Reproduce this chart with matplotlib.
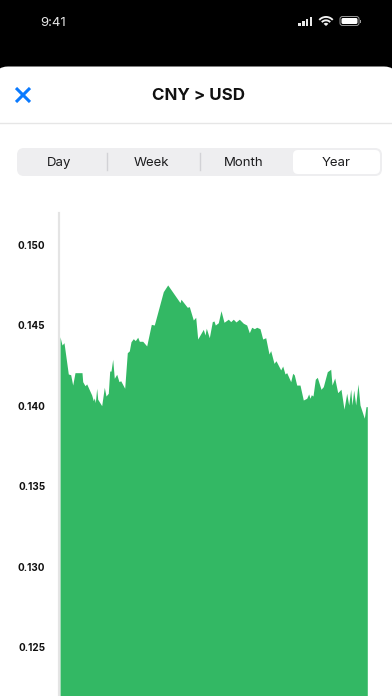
import matplotlib
matplotlib.use("Agg")
import matplotlib.pyplot as plt
from matplotlib.patches import FancyBboxPatch, Rectangle, Wedge

plt.rcParams['font.family'] = ['Inter', 'DejaVu Sans']

# time position along the axis, and CNY > USD rate
days = [0, 2, 4, 8.3, 10.7, 12.7, 15, 22, 22.7, 25, 26.7, 31.7, 33.3, 34.3, 35.3, 36.7, 37.7, 41.7,
        44.3, 46, 48.3, 49.7, 51, 52.7, 54.3, 56.7, 59, 60.7, 64.7, 67.3, 69.3, 71, 73.3, 75.3, 77.7,
        79.3, 82.7, 86.7, 91.3, 94.3, 103.3, 107.7, 120, 121, 127.3, 129.3, 133.3, 135.7, 137.7,
        143.3, 145, 146.3, 149.3, 152.3, 154, 155.3, 158.3, 161, 164, 168.3, 170.7, 173.3, 176,
        179.3, 183.3, 186.7, 189.3, 191.7, 194.3, 196.7, 200, 202.7, 205.7, 209, 210.7, 214, 216,
        220.7, 222.7, 225, 226.7, 230.7, 232.7, 234.3, 236.7, 240, 243.3, 246.7, 248.7, 250, 251.3,
        253, 255.3, 257.3, 261, 263.3, 267.3, 270.7, 272, 274.7, 277.7, 281, 284, 286.7, 288.7,
        290.7, 292, 293.7, 295.7, 298, 300, 304.3, 306, 307.3]
rates = [.14430, .14379, .14393, .14199, .14194, .14130, .14207, .14207, .14151, .14126, .14137,
         .14068, .14033, .14050, .14021, .14110, .14042, .14002, .14116, .14062, .14079, .14217,
         .14217, .14290, .14172, .14197, .14151, .14157, .14110, .14331, .14342, .14399, .14418,
         .14406, .14427, .14402, .14402, .14373, .14507, .14503, .14710, .14752, .14642, .14663,
         .14613, .14617, .14534, .14551, .14416, .14476, .14441, .14483, .14424, .14524, .14528,
         .14503, .14517, .14592, .14520, .14539, .14524, .14539, .14522, .14539, .14514, .14503,
         .14455, .14489, .14480, .14489, .14480, .14416, .14424, .14323, .14344, .14265, .14281,
         .14224, .14248, .14199, .14207, .14151, .14203, .14193, .14130, .14130, .14037, .14048,
         .14075, .14048, .14070, .14062, .14166, .14178, .14104, .14120, .14213, .14228, .14130,
         .14174, .14083, .14104, .13980, .14079, .14006, .14104, .14006, .14099, .14006, .14137,
         .14006, .13924, .13996, .13996]
yticks = [0.125, 0.130, 0.135, 0.140, 0.145, 0.150]
tabs = ["Day", "Week", "Month", "Year"]
tab_x = [59.5, 151.5, 244, 336]

W, H = 392, 696
fig = plt.figure(figsize=(W / 100, H / 100), dpi=100, facecolor="black")

# screen furniture in pixel coordinates
ui = fig.add_axes([0, 0, 1, 1])
ui.set_xlim(0, W)
ui.set_ylim(H, 0)
ui.axis("off")

ui.add_patch(FancyBboxPatch((-5, 66.5), W + 10, 700, boxstyle="round,pad=0,rounding_size=13", fc="white", ec="none"))
ui.text(53, 23, "9:41", color="#e8e8e8", fontsize=9.5, ha="center", va="center")

# status icons
for i, h in enumerate([3, 5, 7, 9]):
    ui.add_patch(Rectangle((298.5 + i * 3.7, 25.5 - h), 2.6, h, fc="#e8e8e8", ec="none"))
ui.add_patch(Wedge((326, 26), 10, 222, 318, width=1.9, fc="#f0f0f0", ec="none"))
ui.add_patch(Wedge((326, 26), 6.6, 222, 318, width=1.9, fc="#f0f0f0", ec="none"))
ui.add_patch(Wedge((326, 26), 3.2, 222, 318, fc="#f0f0f0", ec="none"))
ui.add_patch(FancyBboxPatch((340, 16.5), 19, 9, boxstyle="round,pad=0,rounding_size=2.5", fc="none", ec="#999999", lw=0.7))
ui.add_patch(FancyBboxPatch((341.5, 18), 16, 6, boxstyle="round,pad=0,rounding_size=1.5", fc="white", ec="none"))
ui.add_patch(Rectangle((360, 19.5), 1, 3, fc="#999999", ec="none"))

# header
ui.plot([16, 30], [88, 102], color="#0a7aff", lw=2.2, solid_capstyle="butt")
ui.plot([16, 30], [102, 88], color="#0a7aff", lw=2.2, solid_capstyle="butt")
ui.text(198.5, 95.5, "CNY > USD", color="#111111", fontsize=12.2, fontweight="bold", ha="center", va="center")
ui.plot([0, W], [123, 123], color="#e6e6e6", lw=1)

# segmented control
ui.add_patch(FancyBboxPatch((17, 148), 365, 28, boxstyle="round,pad=0,rounding_size=7", fc="#eeeef0", ec="none"))
ui.add_patch(FancyBboxPatch((293, 150), 87, 24, boxstyle="round,pad=0,rounding_size=5", fc="white", ec="none"))
for sx in [107, 200]:
    ui.plot([sx, sx], [153, 170], color="#d2d2d6", lw=1)
for t, tx in zip(tabs, tab_x):
    ui.text(tx, 166, t, color="#1c1c1e", fontsize=9.5, ha="center", va="baseline")

# chart
ax = fig.add_axes([60 / W, 0, 307.5 / W, (H - 213) / H])
ax.patch.set_alpha(0)
# set_position clears the ticks, so it goes before them
ax.spines["left"].set_position(("outward", 0.6))
ax.spines["left"].set_color("#e4e4e4")
ax.spines["left"].set_linewidth(1.6)
for s in ["top", "right", "bottom"]:
    ax.spines[s].set_visible(False)
bottom = 0.15 - (H - 245) / 16100
top = 0.15 + (245 - 213) / 16100
ax.fill_between(days, rates, bottom, color="#33b864", lw=0)
ax.set_xlim(0, 307.5)
ax.set_ylim(bottom, top)
ax.set_xticks([])
ax.set_yticks(yticks)
ax.set_yticklabels(["%.3f" % v for v in yticks], fontsize=7.2, fontweight="bold", color="#111111")
ax.tick_params(axis="y", length=0, pad=10)

fig.savefig("out.png", dpi=100, facecolor="black")
